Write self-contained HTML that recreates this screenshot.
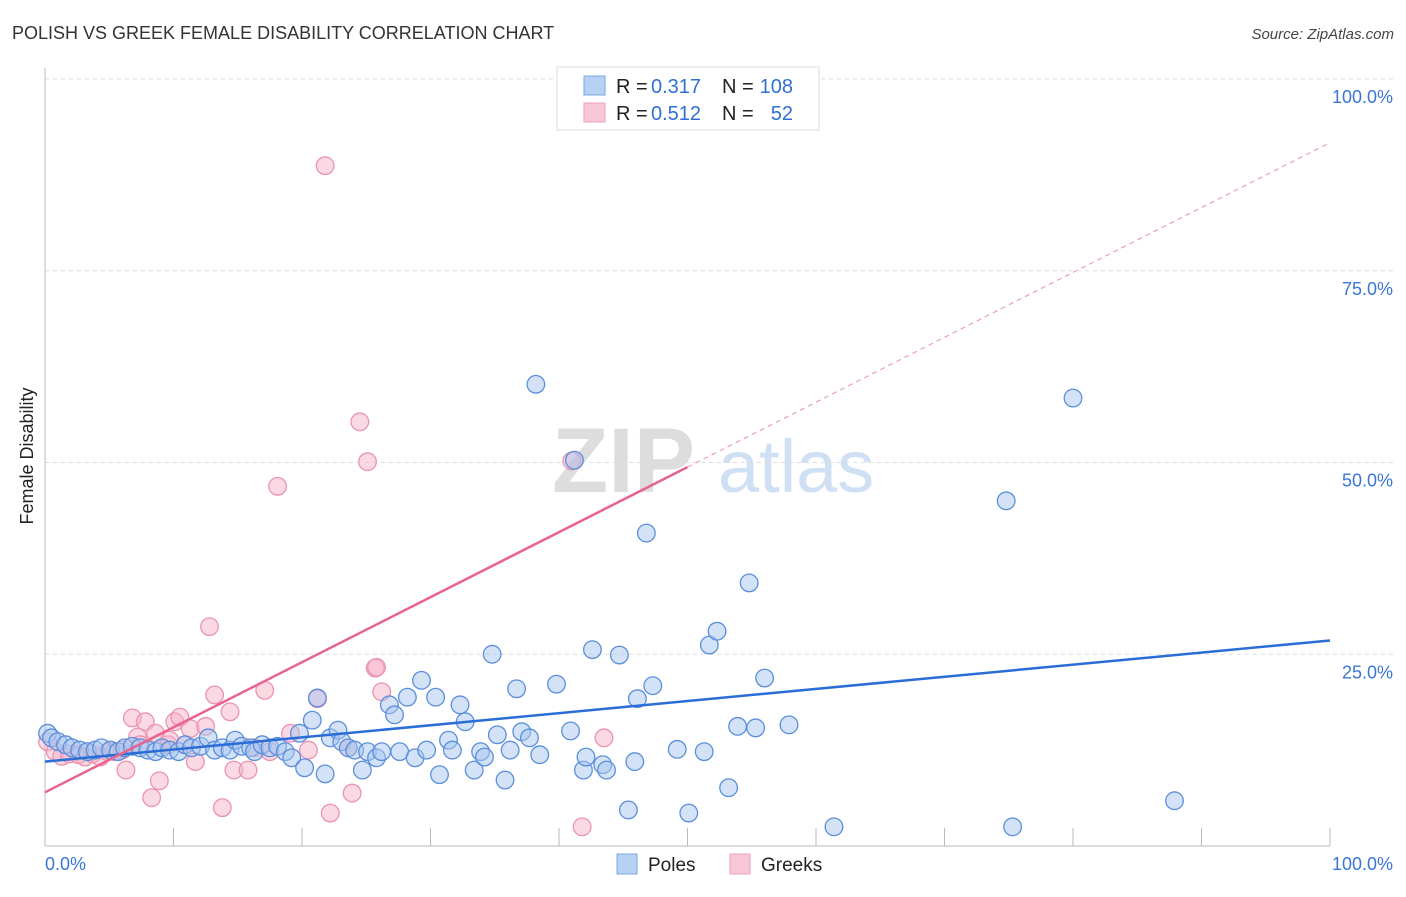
<!DOCTYPE html>
<html><head><meta charset="utf-8"><style>
body{margin:0;background:#fff;font-family:"Liberation Sans",sans-serif}
svg text{font-family:"Liberation Sans",sans-serif}
</style></head><body>
<svg id="chart" width="1406" height="892" xmlns="http://www.w3.org/2000/svg">
<text x="12" y="39" font-size="18" fill="#333">POLISH VS GREEK FEMALE DISABILITY CORRELATION CHART</text>
<text x="1394" y="39" font-size="15" fill="#444" text-anchor="end" font-style="italic">Source: ZipAtlas.com</text>
<g>
<text x="552" y="492" font-size="92" fill="#ddd" font-family="Liberation Serif" font-weight="bold">ZIP</text>
<text x="718" y="492" font-size="74" fill="#cfe0f4">atlas</text>
</g>
<g id="grid"></g>
<g id="axes"></g>
<g id="marks"></g>
<text transform="translate(33,456) rotate(-90)" font-size="18" fill="#222" text-anchor="middle">Female Disability</text>
<g>
<rect x="557" y="67" width="262" height="63" fill="#fff" stroke="#ddd"/>
<rect x="584" y="76" width="21" height="19" fill="#b7d1f3" stroke="#7aa6e6"/>
<rect x="584" y="103" width="21" height="19" fill="#f9c8d6" stroke="#eda1b9"/>
<text x="616" y="93" font-size="20" fill="#222">R =</text>
<text x="651" y="93" font-size="20" fill="#2f6fd6">0.317</text>
<text x="722" y="93" font-size="20" fill="#222">N =</text>
<text x="793" y="93" font-size="20" fill="#2f6fd6" text-anchor="end">108</text>
<text x="616" y="120" font-size="20" fill="#222">R =</text>
<text x="651" y="120" font-size="20" fill="#2f6fd6">0.512</text>
<text x="722" y="120" font-size="20" fill="#222">N =</text>
<text x="793" y="120" font-size="20" fill="#2f6fd6" text-anchor="end">52</text>
</g>
<g>
<rect x="617" y="854" width="20" height="20" fill="#b7d1f3" stroke="#7aa6e6"/>
<text x="648" y="871" font-size="19" fill="#222">Poles</text>
<rect x="730" y="854" width="20" height="20" fill="#f9c8d6" stroke="#eda1b9"/>
<text x="761" y="871" font-size="19" fill="#222">Greeks</text>
</g>
</svg>
<script>
const xTicks=[0,10,20,30,40,50,60,70,80,90,100];
const yTicks=[25,50,75,100];
const yTickLabels=["25.0%","50.0%","75.0%","100.0%"];
const polesX=[0.2,0.5,1.0,1.6,2.1,2.7,3.3,3.9,4.4,5.1,5.7,6.2,6.8,7.4,8.0,8.6,9.1,9.7,10.4,10.9,11.4,12.1,12.7,13.2,13.8,14.4,14.8,15.3,16.0,16.3,16.9,17.5,18.1,18.7,19.2,19.8,20.2,20.8,21.2,21.8,22.2,22.8,23.1,23.6,24.1,24.7,25.1,25.8,26.2,26.8,27.2,27.6,28.2,28.8,29.3,29.7,30.4,30.7,31.4,31.7,32.3,32.7,33.4,33.9,34.2,34.8,35.2,35.8,36.2,36.7,37.1,37.7,38.2,38.5,39.8,40.9,41.2,41.9,42.1,42.6,43.4,43.7,44.7,45.4,45.9,46.1,46.8,47.3,49.2,50.1,51.3,51.7,52.3,53.2,53.9,54.8,55.3,56.0,57.9,61.4,74.8,75.3,80.0,87.9];
const polesY=[14.7,14.1,13.6,13.2,12.8,12.5,12.3,12.5,12.8,12.5,12.3,12.8,13.0,12.8,12.5,12.3,12.8,12.5,12.3,13.2,12.8,13.0,14.1,12.5,12.8,12.5,13.8,13.0,12.8,12.3,13.2,12.8,13.0,12.3,11.5,14.7,10.2,16.4,19.3,9.4,14.1,15.1,13.6,12.8,12.5,9.9,12.3,11.5,12.3,18.4,17.1,12.3,19.4,11.5,21.6,12.5,19.4,9.3,13.8,12.5,18.4,16.2,9.9,12.3,11.6,25.0,14.5,8.6,12.5,20.5,14.9,14.1,60.2,11.9,21.1,15.0,50.3,9.9,11.6,25.6,10.6,9.9,24.9,4.7,11.0,19.2,40.8,20.9,12.6,4.3,12.3,26.2,28.0,7.6,15.6,34.3,15.4,21.9,15.8,2.5,45.0,2.5,58.4,5.9];
const greeksX=[0.2,0.8,1.3,1.9,2.6,3.1,3.7,4.3,4.9,5.4,6.0,6.3,6.8,7.2,7.8,8.3,8.6,8.9,9.6,10.1,10.5,10.9,11.3,11.7,12.5,12.8,13.2,13.8,14.4,14.7,15.8,16.3,17.1,17.5,19.1,20.5,21.2,21.8,22.2,23.6,23.9,24.5,25.1,25.7,25.8,26.2,41.0,41.8,43.5,18.1,7.4,9.7];
const greeksY=[13.6,12.3,11.7,12.0,11.9,11.6,12.0,11.6,12.3,12.3,12.5,9.9,16.7,14.2,16.2,6.3,14.7,8.5,13.2,16.2,16.8,13.2,15.3,11.0,15.6,28.6,19.7,5.0,17.5,9.9,9.9,12.8,20.3,12.3,14.7,12.5,19.2,88.7,4.3,12.8,6.9,55.3,50.1,23.2,23.3,20.1,50.2,2.5,14.1,46.9,13.2,13.8];
const polesTrend=[0,11.0,100,26.8];
const greeksTrend=[0,7.0,50,49.4,100,91.7];
const X0=45,X1=1330,Y0=846,Y100=79;
const sx=v=>X0+(X1-X0)*v/100, sy=v=>Y0-(Y0-Y100)*v/100;
const NS="http://www.w3.org/2000/svg";
function mk(tag,attrs,parent){const e=document.createElementNS(NS,tag);for(const k in attrs)e.setAttribute(k,attrs[k]);parent.appendChild(e);return e;}
const grid=document.getElementById('grid'),axes=document.getElementById('axes'),marks=document.getElementById('marks');
yTicks.forEach((t,i)=>{
 const l=mk('line',{x1:X0,x2:1394,y1:sy(t),y2:sy(t),stroke:'#ddd','stroke-dasharray':'4,4'},grid);
 
 
 const tx=mk('text',{x:1393,y:sy(t)+24,'font-size':18,fill:'#3a76d8','text-anchor':'end'},axes);
 tx.textContent=yTickLabels[i];
 
 
});
const ax=mk('line',{x1:X0,x2:X0,y1:68,y2:Y0,stroke:'#bbb'},axes);


const bx=mk('line',{x1:X0,x2:X1,y1:Y0,y2:Y0,stroke:'#bbb'},axes);


xTicks.forEach(t=>{
 const l=mk('line',{x1:sx(t),x2:sx(t),y1:Y0-18,y2:Y0,stroke:'#bbb'},axes);
 
 
});
const xl0=mk('text',{x:45,y:870,'font-size':18,fill:'#3a76d8'},axes);xl0.textContent='0.0%';


const xl1=mk('text',{x:1393,y:870,'font-size':18,fill:'#3a76d8','text-anchor':'end'},axes);xl1.textContent='100.0%';


function pts(xs,ys,fill,stroke,name){xs.forEach((x,i)=>{
 const c=mk('circle',{cx:sx(x),cy:sy(ys[i]),r:8.8,fill:fill,'fill-opacity':0.5,stroke:stroke,'stroke-width':1.3},marks);
 
 
});}
pts(greeksX,greeksY,'#f5b3c8','#eb93b0','greeks-point');
pts(polesX,polesY,'#a8c6f0','#5b8fdc','poles-point');
const bt=mk('line',{x1:sx(polesTrend[0]),y1:sy(polesTrend[1]),x2:sx(polesTrend[2]),y2:sy(polesTrend[3]),stroke:'#2a6dd6','stroke-width':2.5},marks);


const pt=mk('line',{x1:sx(greeksTrend[0]),y1:sy(greeksTrend[1]),x2:sx(greeksTrend[2]),y2:sy(greeksTrend[3]),stroke:'#e8648e','stroke-width':2.5},marks);


const pd=mk('line',{x1:sx(greeksTrend[2]),y1:sy(greeksTrend[3]),x2:sx(greeksTrend[4]),y2:sy(greeksTrend[5]),stroke:'#eaa0b8','stroke-width':1.2,'stroke-dasharray':'5,4'},marks);


</script>
</body></html>
